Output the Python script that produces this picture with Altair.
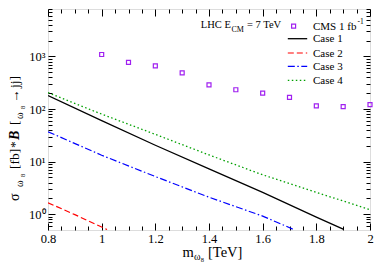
import altair as alt
import pandas as pd

# ---------------- data ----------------
cms_mass = [1.0, 1.1, 1.2, 1.3, 1.4, 1.5, 1.6, 1.7, 1.8, 1.9, 2.0]
cms_sigma = [1090, 775, 660, 487, 287, 233, 200, 167, 115, 111, 121]

case1_mass = [0.8, 1.0, 1.2, 1.4, 1.6, 1.8, 1.9]
case1_sigma = [180, 60, 20.5, 7.3, 2.6, 0.88, 0.52]
case2_mass = [0.8, 0.9, 1.0, 1.02]
case2_sigma = [1.65, 0.98, 0.57, 0.51]
case3_mass = [0.8, 1.0, 1.2, 1.4, 1.6, 1.72]
case3_sigma = [37, 13.2, 5.2, 2.1, 0.92, 0.5]
case4_mass = [0.8, 1.0, 1.2, 1.4, 1.6, 1.8, 2.0]
case4_sigma = [205, 80, 33, 13.4, 5.6, 2.6, 1.22]

x_major = [0.8, 1.0, 1.2, 1.4, 1.6, 1.8, 2.0]
x_minor = [0.85, 0.9, 0.95, 1.05, 1.1, 1.15, 1.25, 1.3, 1.35, 1.45, 1.5, 1.55,
           1.65, 1.7, 1.75, 1.85, 1.9, 1.95]
y_major = [1, 10, 100, 1000]
y_minor = [0.6, 0.7, 0.8, 0.9, 2, 3, 4, 5, 6, 7, 8, 9, 20, 30, 40, 50, 60, 70, 80, 90,
           200, 300, 400, 500, 600, 700, 800, 900, 2000, 3000, 4000, 5000, 6000, 7000, 8000]

# ---------------- layout ----------------
W, H = 322, 221
FONT = "Liberation Serif"
xs = alt.Scale(domain=[0.8, 2.0], nice=False, zero=False)
ys = alt.Scale(type="log", domain=[0.5, 8000], nice=False)


def df(xv, yv):
    return pd.DataFrame({"m": xv, "s": yv})


def tick_axis(orient, values, size, offset):
    return alt.Axis(orient=orient, values=values, tickSize=size, offset=offset,
                    labels=False, domain=False, grid=False, title=None,
                    tickColor="black", tickWidth=1)


xlab = alt.Axis(orient="bottom", values=x_major, format="~g", ticks=False, domain=False,
                grid=False, title=None, labelFont=FONT, labelFontSize=12.5,
                labelColor="black", labelPadding=2, labelFlush=False)
ylab = alt.Axis(orient="left", values=y_major, ticks=False, domain=False, grid=False,
                title=None, labelFont=FONT, labelFontSize=12.5, labelColor="black",
                labelPadding=3,
                labelExpr="datum.value==1?'10⁰':datum.value==10?'10¹':datum.value==100?'10²':'10³'")

MARK_COLOR = "#a020f0"
cms = alt.Chart(df(cms_mass, cms_sigma)).mark_point(
    shape="square", filled=False, size=16, strokeWidth=1.2, color=MARK_COLOR, opacity=1
).encode(x=alt.X("m:Q", scale=xs, axis=xlab), y=alt.Y("s:Q", scale=ys, axis=ylab))

c1 = alt.Chart(df(case1_mass, case1_sigma)).mark_line(
    color="black", strokeWidth=1.3, clip=True
).encode(x=alt.X("m:Q", scale=xs, axis=tick_axis("top", x_major, 7, -H)),
         y=alt.Y("s:Q", scale=ys, axis=tick_axis("right", y_major, 7, -W)))

c2 = alt.Chart(df(case2_mass, case2_sigma)).mark_line(
    color="#ff0000", strokeWidth=1.2, strokeDash=[6, 3], clip=True
).encode(x=alt.X("m:Q", scale=xs, axis=tick_axis("top", x_minor, 4, -H)),
         y=alt.Y("s:Q", scale=ys, axis=tick_axis("right", y_minor, 4, -W)))

c3 = alt.Chart(df(case3_mass, case3_sigma)).mark_line(
    color="#0000ff", strokeWidth=1.2, strokeDash=[7, 2.5, 1.5, 2.5], clip=True
).encode(x=alt.X("m:Q", scale=xs, axis=tick_axis("bottom", x_major, 7, -H)),
         y=alt.Y("s:Q", scale=ys, axis=tick_axis("left", y_major, 7, -W)))

c4 = alt.Chart(df(case4_mass, case4_sigma)).mark_line(
    color="#00a000", strokeWidth=1.3, strokeDash=[1.5, 2.5], clip=True
).encode(x=alt.X("m:Q", scale=xs, axis=tick_axis("bottom", x_minor, 4, -H)),
         y=alt.Y("s:Q", scale=ys, axis=tick_axis("left", y_minor, 4, -W)))

dummy = pd.DataFrame({"d": [0]})


def txt(t, x, y, size, angle=0, align="left", baseline="alphabetic", weight="normal",
        style="normal", color="black"):
    kw = dict(text=t, fontSize=size, font=FONT, align=align, baseline=baseline,
              fontWeight=weight, fontStyle=style, color=color)
    if angle:
        kw["angle"] = angle
    return alt.Chart(dummy).mark_text(**kw).encode(x=alt.value(x), y=alt.value(y))


def seg(x1, x2, y, color, dash, width):
    kw = dict(color=color, strokeWidth=width)
    if dash:
        kw["strokeDash"] = dash
    return alt.Chart(dummy).mark_rule(**kw).encode(
        x=alt.value(x1), x2=alt.value(x2), y=alt.value(y))


extras = []
# x axis title: m_{ω8} [TeV]
extras += [txt("m", 134.5, 247.5, 14.5), txt("ω", 146, 251, 10), txt("8", 152.8, 252.8, 6.5),
           txt("[TeV]", 160, 247.5, 14.5)]
# y axis title: σ_{ω8} [fb] * B[ω8→jj]
BX, SX, SSX = -29.5, -25.5, -23.5
extras += [txt("σ", BX, 192, 14, angle=270),
           txt("ω", SX, 178, 10, angle=270),
           txt("8", SSX, 168, 6.5, angle=270),
           txt("[fb]", BX, 160, 13.5, angle=270),
           txt("*", BX, 139, 13.5, angle=270),
           txt("B", BX, 131, 14, angle=270, weight="bold", style="italic"),
           txt("[", BX, 116, 13.5, angle=270),
           txt("ω", SX, 110, 10, angle=270),
           txt("8", SSX, 100, 6.5, angle=270),
           txt("→", BX, 94, 13.5, angle=270),
           txt("jj]", BX, 79, 13.5, angle=270)]
# LHC label
extras += [txt("LHC E", 152.8, 19, 10.5), txt("CM", 183.5, 22.5, 8), txt("= 7 TeV", 199, 19, 10.5)]
# legend
extras += [alt.Chart(dummy).mark_point(shape="square", filled=False, size=16, strokeWidth=1.2,
                                       color=MARK_COLOR, opacity=1).encode(
               x=alt.value(245.6), y=alt.value(17.2)),
           txt("CMS 1 fb", 265, 20.5, 11), txt("-1", 309.5, 14.5, 7.5)]
rows = [("Case 1", "black", None, 1.3, 29.7),
        ("Case 2", "#ff0000", [6, 3], 1.2, 44.0),
        ("Case 3", "#0000ff", [7, 2.5, 1.5, 2.5], 1.2, 57.4),
        ("Case 4", "#00a000", [1.5, 2.5], 1.3, 71.3)]
for lab, col, dash, wdt, yy in rows:
    extras += [seg(239.8, 259.2, yy, col, dash, wdt),
               txt(lab, 265, yy + 0.5, 11, baseline="middle")]

chart = alt.layer(cms, c1, c2, c3, c4, *extras).resolve_axis(
    x="independent", y="independent"
).properties(
    width=W, height=H,
    autosize=alt.AutoSizeParams(type="none"),
    padding={"left": 40, "top": 1, "right": 4, "bottom": 32},
).configure_view(stroke="black", strokeWidth=1).configure(font=FONT)

chart.save("out.html", embed_options={"renderer": "svg", "actions": False})
